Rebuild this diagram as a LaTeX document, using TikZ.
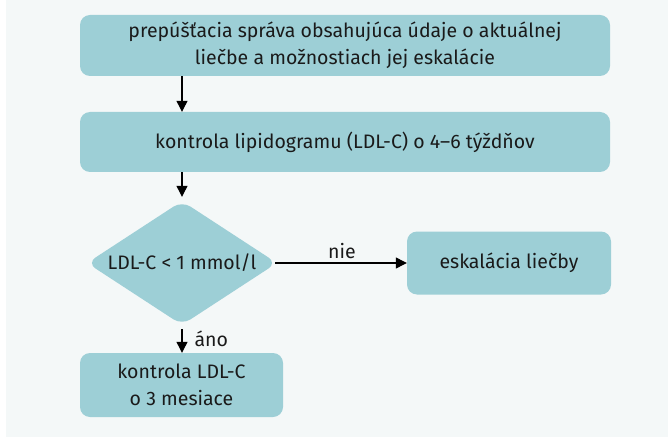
\documentclass[tikz,border=0pt]{standalone}
\usepackage{fontspec}
\setmainfont{Fira Sans}
\usetikzlibrary{shapes.geometric,arrows.meta}
\definecolor{boxfill}{HTML}{9DCFD6}
\definecolor{panel}{HTML}{F4F8F8}
\definecolor{ink}{HTML}{1A1A1A}
\begin{document}
\begin{tikzpicture}[x=1pt,y=-1pt,
  box/.style={fill=boxfill,rounded corners=10pt,text=ink,align=center,inner sep=0pt,font=\fontsize{19.5}{27}\selectfont},
  decision/.style={diamond,aspect=1.55,fill=boxfill,rounded corners=10pt,text=ink,inner sep=0pt,font=\fontsize{19.5}{27}\selectfont},
  arr/.style={-{Triangle[length=11pt,width=11pt]},line width=1.2pt,draw=black},
  lbl/.style={text=ink,font=\fontsize{19.5}{22}\selectfont}]
  \useasboundingbox (0,0) rectangle (668,438);
  \fill[panel] (6,0) rectangle (668,437);

  \node[box,minimum width=530pt,minimum height=61pt] (discharge) at (345,45.5)
    {prepúšťacia správa obsahujúca údaje o aktuálnej\\liečbe a možnostiach jej eskalácie};
  \node[box,minimum width=530pt,minimum height=60pt] (lipid) at (345,142)
    {kontrola lipidogramu (LDL-C) o 4–6 týždňov};
  \node[decision,minimum width=190pt,minimum height=124pt] (ldl) at (182,263)
    {LDL-C < 1 mmol/l};
  \node[box,minimum width=204pt,minimum height=63pt] (escalate) at (509,263)
    {eskalácia liečby};
  \node[box,minimum width=203pt,minimum height=64pt] (recheck) at (181.5,385)
    {kontrola LDL-C\\o 3 mesiace};

  \draw[arr] (discharge.south -| ldl.north) -- (lipid.north -| ldl.north);
  \draw[arr,shorten >=4pt] (lipid.south -| ldl.north) -- (ldl.north);
  \draw[arr,shorten <=-2pt] (ldl.east) -- (escalate.west) node[lbl,midway,above,inner sep=4pt]{nie};
  \draw[arr,shorten <=4pt] (ldl.south) -- (recheck.north -| ldl.south) node[lbl,midway,right,inner sep=12pt]{áno};
\end{tikzpicture}
\end{document}
